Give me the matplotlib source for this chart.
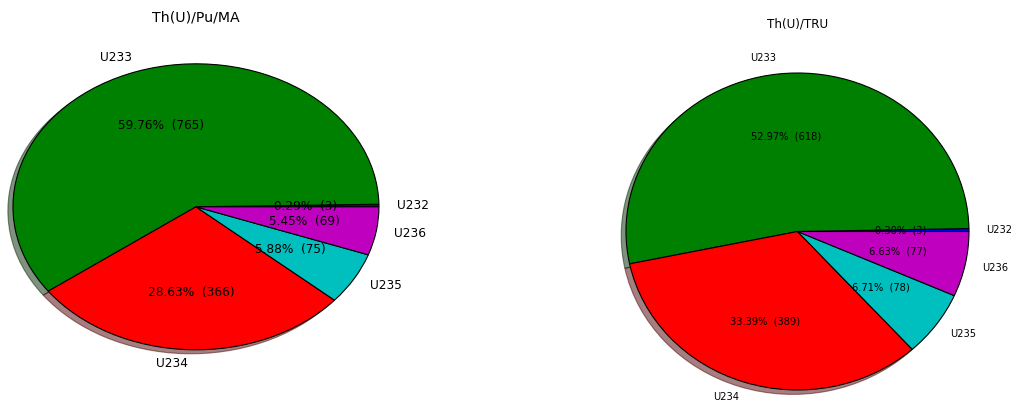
import matplotlib.pyplot as plt

isotopes = ['U232', 'U233', 'U234', 'U235', 'U236']
colors = ['b', 'g', 'r', 'c', 'm']

# uranium vector for each fuel cycle
pu_ma = [3.7, 765.5, 366.75, 75.3, 69.8]
tru = [3.5, 618.4, 389.8, 78.3, 77.4]


def make_autopct(values):
    total = sum(values)

    def my_autopct(pct):
        val = int(pct * total / 100.0)
        return '{p:.2f}%  ({v:d})'.format(p=pct, v=val)
    return my_autopct


def draw_pie(ax, values, title, label_size, title_size):
    ax.pie(values, labels=isotopes, colors=colors, shadow=True,
           autopct=make_autopct(values),
           wedgeprops={'edgecolor': 'black', 'linewidth': 0.8},
           textprops={'fontsize': label_size})
    ax.set_aspect('auto')
    ax.set_xlim(-1.25, 1.25)
    ax.set_ylim(-1.25, 1.25)
    ax.set_title(title, fontsize=title_size, pad=4.5)


fig = plt.figure(figsize=(10.15, 4.08), dpi=100)

ax1 = fig.add_axes([-0.0323, 0.055, 0.4507, 0.8762])
draw_pie(ax1, pu_ma, 'Th(U)/Pu/MA', 8.7, 10.2)

ax2 = fig.add_axes([0.5745, -0.053, 0.4224, 0.9712])
draw_pie(ax2, tru, 'Th(U)/TRU', 7.1, 8.6)

fig.savefig('out.png', dpi=100)
